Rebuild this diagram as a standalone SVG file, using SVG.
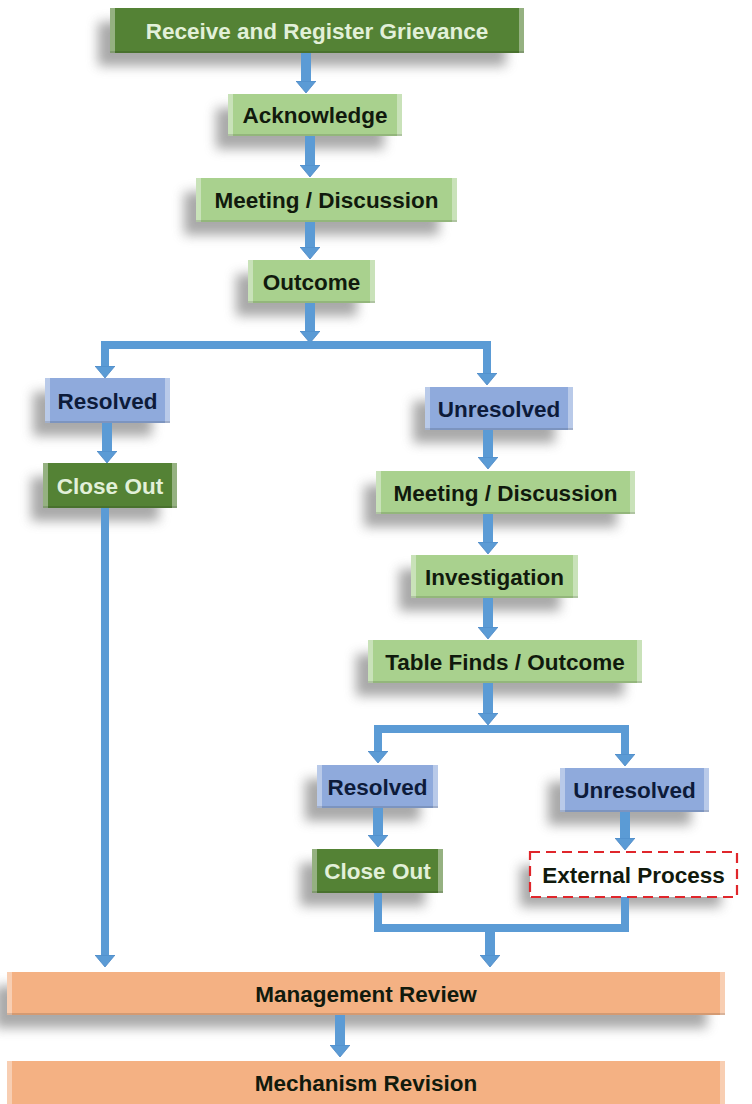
<svg xmlns="http://www.w3.org/2000/svg" width="752" height="1104" viewBox="0 0 752 1104">
<defs>
<filter id="blur" x="-20%" y="-60%" width="140%" height="220%"><feGaussianBlur stdDeviation="6"/></filter>
<marker id="ah" viewBox="0 0 12 20" refX="0" refY="10" markerWidth="12" markerHeight="20" markerUnits="userSpaceOnUse" orient="auto"><path d="M0,0 L12,10 L0,20 z" fill="#5b9bd5" stroke="#4a87c4" stroke-width="0.8"/></marker>
</defs>
<style>
.sh{fill:#6f6f6f;opacity:.6;filter:url(#blur)}
.dg{fill:#548235}
.lg{fill:#a9d18e}
.bl{fill:#8faadc}
.or{fill:#f4b183}
.edge{fill:#fff;opacity:.38}
.bot{fill:#000;opacity:.13}
.t{font-family:"Liberation Sans",Arial,sans-serif;font-weight:bold;font-size:22.5px;text-anchor:middle}
.tl{fill:#e2f0d9}
.td{fill:#111a0d}
.tb{fill:#0d1b3a}
.c{fill:none;stroke:#5b9bd5;stroke-width:10;marker-end:url(#ah)}
.e{fill:none;stroke:#5b9bd5;stroke-width:8;stroke-linejoin:miter}
.ext{fill:#fff;stroke:#e0262b;stroke-width:2.2;stroke-dasharray:10 6}
</style>
<rect width="752" height="1104" fill="#fff"/>

<g id="shadows">
<rect class="sh" x="98" y="22" width="408" height="44"/>
<rect class="sh" x="216" y="108" width="168" height="41"/>
<rect class="sh" x="184" y="192" width="255" height="43"/>
<rect class="sh" x="236" y="274" width="121" height="42"/>
<rect class="sh" x="33" y="392" width="119" height="44"/>
<rect class="sh" x="31" y="477" width="128" height="44"/>
<rect class="sh" x="413" y="401" width="142" height="42"/>
<rect class="sh" x="364" y="485" width="253" height="42"/>
<rect class="sh" x="399" y="569" width="161" height="42"/>
<rect class="sh" x="356" y="654" width="268" height="42"/>
<rect class="sh" x="305" y="779" width="115" height="42"/>
<rect class="sh" x="548" y="782" width="143" height="43"/>
<rect class="sh" x="300" y="863" width="125" height="43"/>
<rect class="sh" x="520" y="866" width="201" height="41" opacity=".3"/>
<rect class="sh" x="-5" y="986" width="712" height="42"/>
</g>

<g id="connectors">
<path class="c" d="M306,53 V81"/>
<path class="c" d="M310,136 V165"/>
<path class="c" d="M310,222 V247"/>
<path class="c" d="M310,303 V331"/>
<path class="e" d="M310,345 H105 V366" marker-end="url(#ah)"/>
<path class="e" d="M310,345 H487 V373" marker-end="url(#ah)"/>
<path class="c" d="M107,423 V451"/>
<path class="e" d="M105,508 V955" marker-end="url(#ah)"/>
<path class="c" d="M488,430 V457"/>
<path class="c" d="M488,514 V542"/>
<path class="c" d="M488,598 V627"/>
<path class="c" d="M488,683 V713"/>
<path class="e" d="M488,729 H378 V751" marker-end="url(#ah)"/>
<path class="e" d="M488,729 H625 V754" marker-end="url(#ah)"/>
<path class="c" d="M378,808 V835"/>
<path class="c" d="M625,812 V838"/>
<path class="e" d="M378,893 V928 H625 V897"/>
<path class="c" d="M490,928 V955"/>
<path class="c" d="M340,1015 V1045"/>
</g>

<g id="n-receive">
<rect class="dg" x="110" y="8" width="414" height="45"/>
<rect class="edge" x="110" y="8" width="5" height="45"/><rect class="edge" x="519" y="8" width="5" height="45"/><rect class="bot" x="110" y="51" width="414" height="2"/>
<text class="t tl" x="317" y="38.5">Receive and Register Grievance</text>
</g>
<g id="n-acknowledge">
<rect class="lg" x="228" y="94" width="174" height="42"/>
<rect class="edge" x="228" y="94" width="5" height="42"/><rect class="edge" x="397" y="94" width="5" height="42"/><rect class="bot" x="228" y="134" width="174" height="2"/>
<text class="t td" x="315" y="123">Acknowledge</text>
</g>
<g id="n-meeting1">
<rect class="lg" x="196" y="178" width="261" height="44"/>
<rect class="edge" x="196" y="178" width="5" height="44"/><rect class="edge" x="452" y="178" width="5" height="44"/><rect class="bot" x="196" y="220" width="261" height="2"/>
<text class="t td" x="326.5" y="208">Meeting / Discussion</text>
</g>
<g id="n-outcome">
<rect class="lg" x="248" y="260" width="127" height="43"/>
<rect class="edge" x="248" y="260" width="5" height="43"/><rect class="edge" x="370" y="260" width="5" height="43"/><rect class="bot" x="248" y="301" width="127" height="2"/>
<text class="t td" x="311.5" y="289.5">Outcome</text>
</g>
<g id="n-resolved1">
<rect class="bl" x="45" y="378" width="125" height="45"/>
<rect class="edge" x="45" y="378" width="5" height="45"/><rect class="edge" x="165" y="378" width="5" height="45"/><rect class="bot" x="45" y="421" width="125" height="2"/>
<text class="t tb" x="107.5" y="408.5">Resolved</text>
</g>
<g id="n-closeout1">
<rect class="dg" x="43" y="463" width="134" height="45"/>
<rect class="edge" x="43" y="463" width="5" height="45"/><rect class="edge" x="172" y="463" width="5" height="45"/><rect class="bot" x="43" y="506" width="134" height="2"/>
<text class="t tl" x="110" y="493.5">Close Out</text>
</g>
<g id="n-unresolved1">
<rect class="bl" x="425" y="387" width="148" height="43"/>
<rect class="edge" x="425" y="387" width="5" height="43"/><rect class="edge" x="568" y="387" width="5" height="43"/><rect class="bot" x="425" y="428" width="148" height="2"/>
<text class="t tb" x="499" y="416.5">Unresolved</text>
</g>
<g id="n-meeting2">
<rect class="lg" x="376" y="471" width="259" height="43"/>
<rect class="edge" x="376" y="471" width="5" height="43"/><rect class="edge" x="630" y="471" width="5" height="43"/><rect class="bot" x="376" y="512" width="259" height="2"/>
<text class="t td" x="505.5" y="500.5">Meeting / Discussion</text>
</g>
<g id="n-investigation">
<rect class="lg" x="411" y="555" width="167" height="43"/>
<rect class="edge" x="411" y="555" width="5" height="43"/><rect class="edge" x="573" y="555" width="5" height="43"/><rect class="bot" x="411" y="596" width="167" height="2"/>
<text class="t td" x="494.5" y="584.5">Investigation</text>
</g>
<g id="n-tablefinds">
<rect class="lg" x="368" y="640" width="274" height="43"/>
<rect class="edge" x="368" y="640" width="5" height="43"/><rect class="edge" x="637" y="640" width="5" height="43"/><rect class="bot" x="368" y="681" width="274" height="2"/>
<text class="t td" x="505" y="669.5">Table Finds / Outcome</text>
</g>
<g id="n-resolved2">
<rect class="bl" x="317" y="765" width="121" height="43"/>
<rect class="edge" x="317" y="765" width="5" height="43"/><rect class="edge" x="433" y="765" width="5" height="43"/><rect class="bot" x="317" y="806" width="121" height="2"/>
<text class="t tb" x="377.5" y="794.5">Resolved</text>
</g>
<g id="n-unresolved2">
<rect class="bl" x="560" y="768" width="149" height="44"/>
<rect class="edge" x="560" y="768" width="5" height="44"/><rect class="edge" x="704" y="768" width="5" height="44"/><rect class="bot" x="560" y="810" width="149" height="2"/>
<text class="t tb" x="634.5" y="798">Unresolved</text>
</g>
<g id="n-closeout2">
<rect class="dg" x="312" y="849" width="131" height="44"/>
<rect class="edge" x="312" y="849" width="5" height="44"/><rect class="edge" x="438" y="849" width="5" height="44"/><rect class="bot" x="312" y="891" width="131" height="2"/>
<text class="t tl" x="377.5" y="879">Close Out</text>
</g>
<g id="n-external">
<rect class="ext" x="530" y="852" width="207" height="45"/>
<text class="t td" x="633.5" y="882.5">External Process</text>
</g>
<g id="n-management">
<rect class="or" x="7" y="972" width="718" height="43"/>
<rect class="edge" x="7" y="972" width="5" height="43"/><rect class="edge" x="720" y="972" width="5" height="43"/><rect class="bot" x="7" y="1013" width="718" height="2"/>
<text class="t td" x="366" y="1001.5">Management Review</text>
</g>
<g id="n-mechanism">
<rect class="or" x="7" y="1061" width="718" height="50"/>
<rect class="edge" x="7" y="1061" width="5" height="50"/><rect class="edge" x="720" y="1061" width="5" height="50"/>
<text class="t td" x="366" y="1091">Mechanism Revision</text>
</g>
</svg>
